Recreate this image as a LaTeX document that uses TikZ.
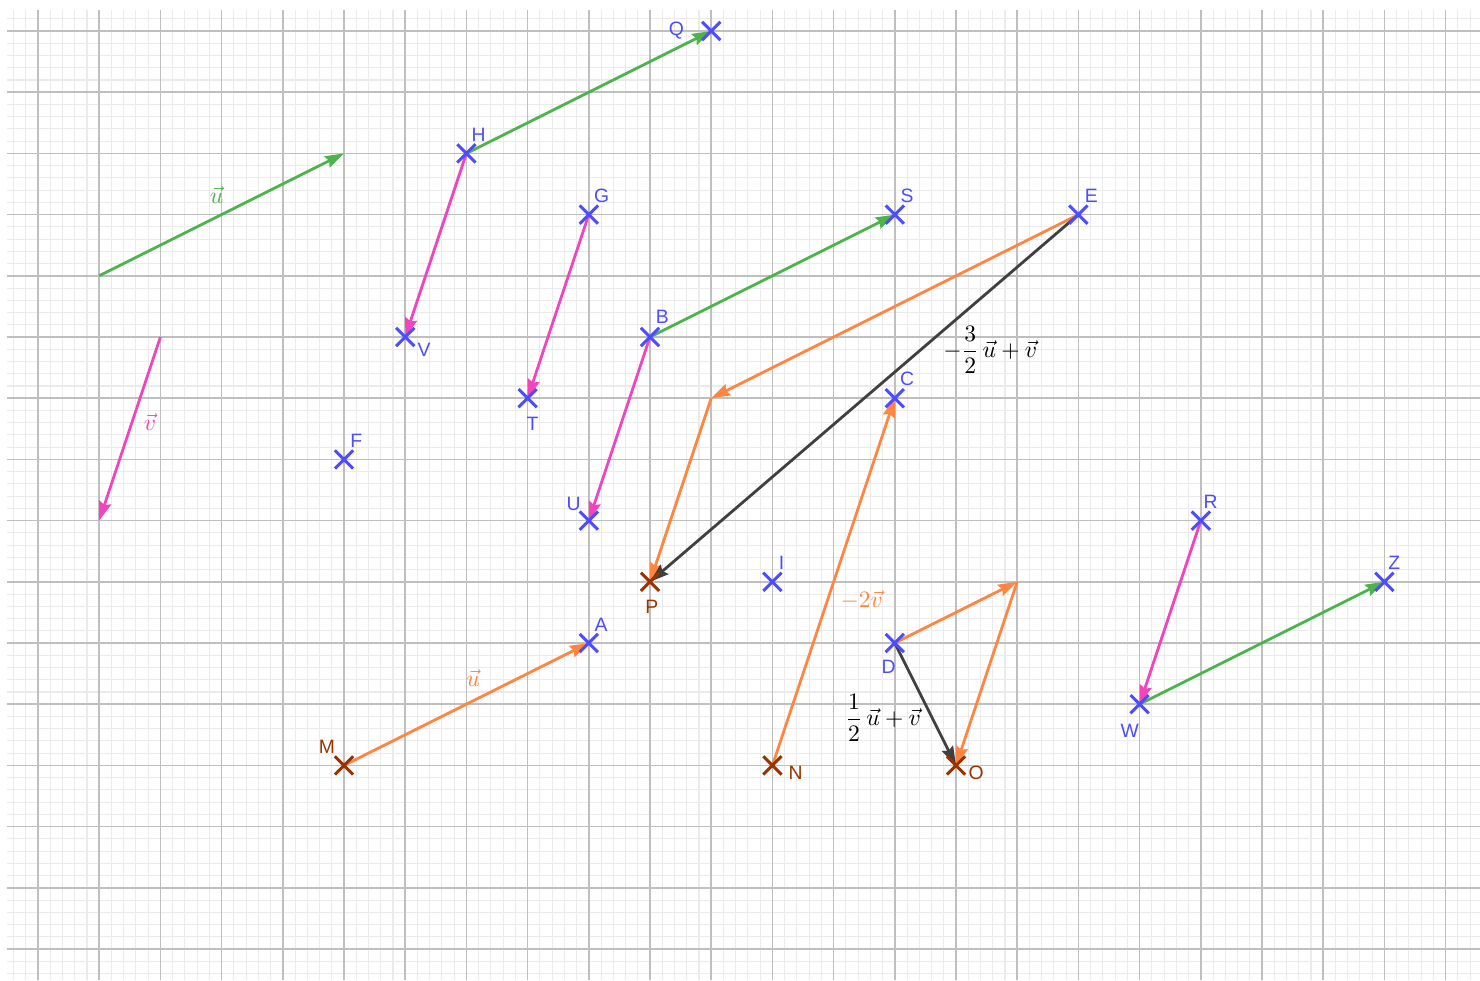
\documentclass[tikz,border=0pt]{standalone}
\usepackage{fontspec}
\newfontfamily\lblfont{Liberation Sans}
\usetikzlibrary{arrows.meta, calc, shapes.misc, backgrounds}
\definecolor{ptblue}{RGB}{77,77,255}
\definecolor{ptbrown}{RGB}{153,51,0}
\definecolor{vgreen}{RGB}{77,179,77}
\definecolor{vpink}{RGB}{242,68,188}
\definecolor{vorange}{RGB}{255,133,64}
\definecolor{vdark}{RGB}{64,64,64}

\begin{document}
\begin{tikzpicture}[
  >={Stealth[length=3.1mm, width=2mm, inset=0.4mm]},
  pt/.style      = {cross out, draw=ptblue, line width=1.4pt, minimum size=0.25cm, inner sep=0pt},
  ptfix/.style   = {pt, draw=ptbrown},
  lbl/.style     = {font=\lblfont\fontsize{9}{11}\selectfont, text=ptblue, inner sep=0pt},
  lblfix/.style  = {lbl, text=ptbrown},
  vec/.style     = {->, line width=1.3pt},
  vecu/.style    = {vec, vgreen},
  vecv/.style    = {vec, vpink},
  vecsum/.style  = {vec, vorange},
  vecres/.style  = {vec, vdark},
  mlbl/.style    = {font=\fontsize{10.95}{13}\selectfont, inner sep=0pt},
  minorgrid/.style = {draw=black!8, line width=0.5pt, step=0.2},
  majorgrid/.style = {draw=black!25, line width=0.7pt, step=1},
]
  \useasboundingbox (-0.621,-0.507) rectangle (23.562,15.507);

  % free vectors u and v
  \coordinate (u1) at (1,11);  \coordinate (u2) at (5,13);
  \coordinate (v1) at (2,10);  \coordinate (v2) at (1,7);
  % corners of the constructions
  \coordinate (k1) at (11,9);  \coordinate (k2) at (16,6);

  % points
  \foreach \n/\x/\y/\dx/\dy in {Q/11/15/-0.57/0, H/7/13/0.2/0.31, G/9/12/0.21/0.31,
      S/14/12/0.2/0.31, E/17/12/0.21/0.31, V/6/10/0.31/-0.21, B/10/10/0.2/0.33,
      T/8/9/0.08/-0.42, C/14/9/0.2/0.31, F/5/8/0.2/0.31, U/9/7/-0.25/0.28,
      I/12/6/0.15/0.31, A/9/5/0.2/0.29, D/14/5/-0.1/-0.39, R/19/7/0.16/0.31,
      Z/22/6/0.16/0.31, W/18/4/-0.16/-0.44}
    {\node[pt] (\n) at (\x,\y) {};
     \node[lbl] (l\n) at ($(\x,\y)+(\dx,\dy)$) {\n};}
  \foreach \n/\x/\y/\dx/\dy in {P/10/6/0.03/-0.41, M/5/3/-0.28/0.31,
      N/12/3/0.38/-0.12, O/15/3/0.33/-0.12}
    {\node[ptfix] (\n) at (\x,\y) {};
     \node[lblfix] (l\n) at ($(\x,\y)+(\dx,\dy)$) {\n};}

  \begin{scope}[on background layer]
    \draw[minorgrid] (-0.51,-0.507) grid (23.562,15.35);
    \draw[majorgrid] (-0.51,-0.507) grid (23.562,15.35);
    \foreach \a/\b in {u1/u2,H/Q,B/S,W/Z}\draw[vecu](\a.center)--(\b.center);
    \foreach \a/\b in {v1/v2,H/V,G/T,B/U,R/W}\draw[vecv](\a.center)--(\b.center);
    \foreach \a/\b in {M/A,N/C,E/k1,k1/P,D/k2,k2/O}\draw[vecsum](\a.center)--(\b.center);
    \foreach \a/\b in {E/P,D/O}\draw[vecres](\a.center)--(\b.center);
  \end{scope}

  % vector labels
  \node[mlbl, text=vgreen]  (lu)   at (2.92,12.32) {$\vec{u}$};
  \node[mlbl, text=vpink]   (lv)   at (1.83,8.61)  {$\vec{v}$};
  \node[mlbl, text=vorange] (lMA)  at (7.11,4.43)  {$\vec{u}$};
  \node[mlbl, text=vorange] (lNC)  at (13.46,5.70) {$-2\vec{v}$};
  \node[mlbl]               (lEP)  at (15.56,9.79) {$\displaystyle -\frac{3}{2}\,\vec{u}+\vec{v}$};
  \node[mlbl]               (lDO)  at (13.81,3.77) {$\displaystyle \frac{1}{2}\,\vec{u}+\vec{v}$};
\end{tikzpicture}
\end{document}
